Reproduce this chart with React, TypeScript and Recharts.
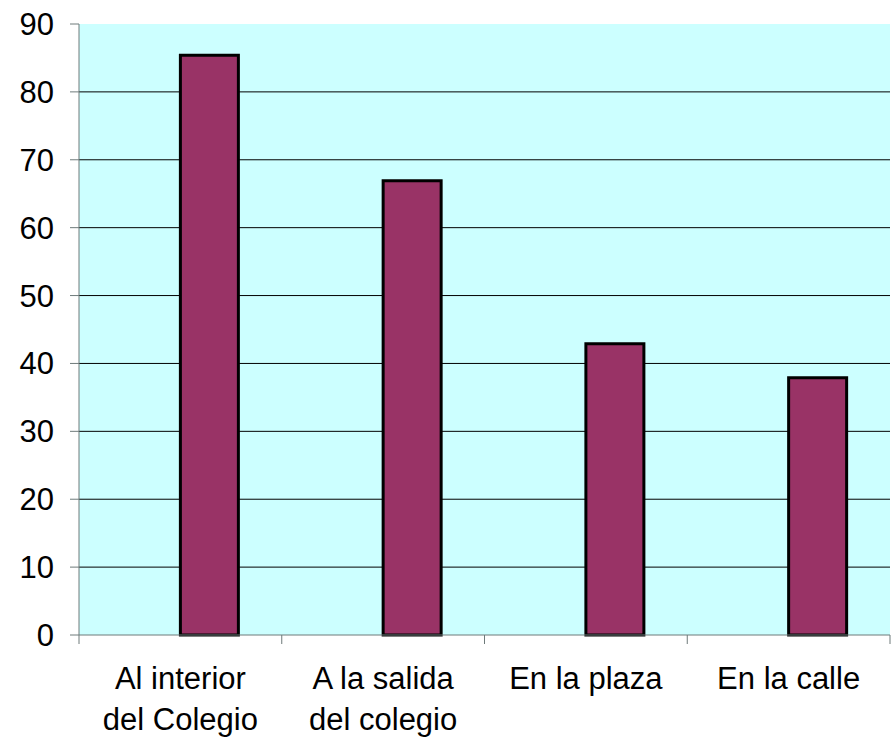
import React from "react";
import { BarChart, Bar, XAxis, YAxis, CartesianGrid } from "recharts";

const labelLine1 = ["Al interior", "A la salida", "En la plaza", "En la calle"];
const labelLine2 = ["del Colegio", "del colegio", "", ""];
const values = [85.4, 66.9, 42.9, 37.9];
const emptySeries = [null, null, null, null];
const yTicks = [0, 10, 20, 30, 40, 50, 60, 70, 80, 90];
const gridValues = [10, 20, 30, 40, 50, 60, 70, 80];

const data = labelLine1.map((l, i) => ({
  name: l,
  line2: labelLine2[i],
  empty: emptySeries[i],
  value: values[i],
}));

const FONT = "'Liberation Sans', Arial, sans-serif";
const AXIS = "#6e7a7a";
const FS = 31;

const CatTick = (props: any) => {
  const { x, y, index, payload } = props;
  const d = data[index];
  const half = payload && payload.offset ? payload.offset : 0;
  return (
    <g>
      {index === 0 ? (
        <line x1={x - half} x2={x - half} y1={y} y2={y + 9} stroke={AXIS} strokeWidth={1} />
      ) : null}
      <line x1={x + half} x2={x + half} y1={y} y2={y + 9} stroke={AXIS} strokeWidth={1} />
      <text x={x} y={y} textAnchor="middle" fill="#000" fontSize={FS} fontFamily={FONT}>
        <tspan x={x} dy={54}>{d.name}</tspan>
        {d.line2 ? <tspan x={x} dy={41}>{d.line2}</tspan> : null}
      </text>
    </g>
  );
};

const ValTick = (props: any) => {
  const { x, y, payload } = props;
  return (
    <text x={x} y={y} dy={11} textAnchor="end" fill="#000" fontSize={FS} fontFamily={FONT}>
      {payload.value}
    </text>
  );
};

export default function App() {
  return (
    <div style={{ position: "absolute", left: 0, top: 0, background: "#fff" }}>
      <BarChart
        width={895}
        height={737}
        data={data}
        margin={{ top: 24, right: 5, left: 0, bottom: 0 }}
        barCategoryGap="21.4%"
        barGap={0}
        style={{ fontFamily: FONT }}
      >
        <CartesianGrid
          vertical={false}
          horizontalValues={gridValues}
          stroke="#000"
          strokeOpacity={1}
          fill="#CCFFFF"
          fillOpacity={1}
        />
        <XAxis
          dataKey="name"
          height={102}
          interval={0}
          tickLine={false}
          tickSize={0}
          tickMargin={0}
          axisLine={{ stroke: AXIS, strokeWidth: 1 }}
          tick={<CatTick />}
        />
        <YAxis
          width={79}
          domain={[0, 90]}
          ticks={yTicks}
          interval={0}
          tickSize={9}
          tickMargin={16}
          axisLine={{ stroke: AXIS, strokeWidth: 1 }}
          tickLine={{ stroke: AXIS, strokeWidth: 1 }}
          tick={<ValTick />}
        />
        <Bar dataKey="empty" fill="#993366" isAnimationActive={false} />
        <Bar
          dataKey="value"
          fill="#993366"
          stroke="#000"
          strokeWidth={3}
          isAnimationActive={false}
        />
      </BarChart>
    </div>
  );
}
